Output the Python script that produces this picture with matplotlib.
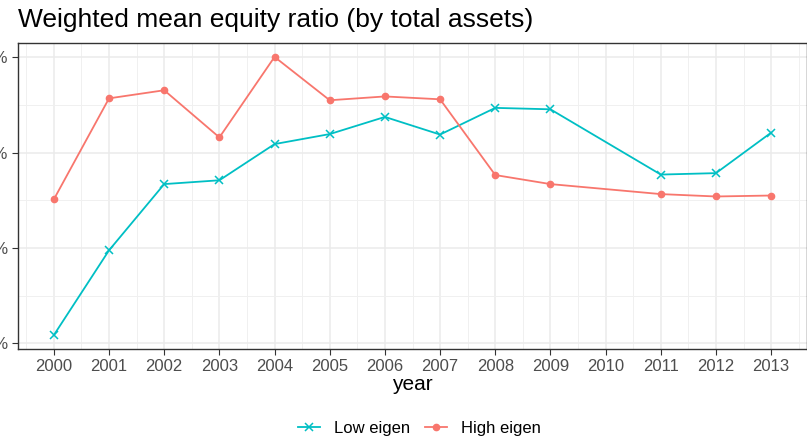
import matplotlib
matplotlib.use("Agg")
import matplotlib.pyplot as plt
from matplotlib.ticker import FuncFormatter, MultipleLocator

# data (2010 is missing for both groups)
years = [2000, 2001, 2002, 2003, 2004, 2005, 2006, 2007, 2008, 2009, 2011, 2012, 2013]
low_eigen = [0.0617, 0.0795, 0.0934, 0.0942, 0.1018, 0.1039, 0.1075, 0.1038,
             0.1094, 0.1091, 0.0954, 0.0957, 0.1042]
high_eigen = [0.0902, 0.1114, 0.1131, 0.1032, 0.1201, 0.1110, 0.1118, 0.1112,
              0.0953, 0.0934, 0.0913, 0.0908, 0.0910]
x_ticks = list(range(2000, 2014))
y_ticks = [0.06, 0.08, 0.10, 0.12]

LOW_COLOR = "#00BFC4"
HIGH_COLOR = "#F8766D"

plt.rcParams["font.family"] = ["Liberation Sans", "DejaVu Sans"]


def pct(v, pos):
    return f"{v * 100:.0f}%"


def plot_equity_ratio():
    fig = plt.figure(figsize=(8.07, 4.41), dpi=100)
    ax = fig.add_axes([18 / 807, (441 - 349) / 441, 789 / 807, 306 / 441])

    ax.plot(years, low_eigen, color=LOW_COLOR, lw=1.3, marker="x",
            markersize=6, markeredgewidth=1.1, label="Low eigen", zorder=3)
    ax.plot(years, high_eigen, color=HIGH_COLOR, lw=1.3, marker="o",
            markersize=4.5, label="High eigen", zorder=3)

    # ggplot-like expansion of 5% on both axes
    xr = years[-1] - years[0]
    ax.set_xlim(years[0] - 0.05 * xr, years[-1] + 0.05 * xr)
    lo = min(low_eigen + high_eigen)
    hi = max(low_eigen + high_eigen)
    ax.set_ylim(lo - 0.05 * (hi - lo), hi + 0.05 * (hi - lo))

    ax.set_xticks(x_ticks)
    ax.set_yticks(y_ticks)
    ax.xaxis.set_minor_locator(MultipleLocator(0.5))
    ax.yaxis.set_minor_locator(MultipleLocator(0.01))
    ax.yaxis.set_major_formatter(FuncFormatter(pct))

    ax.grid(which="major", color="#EBEBEB", lw=1.1, zorder=0)
    ax.grid(which="minor", color="#F0F0F0", lw=0.7, zorder=0)
    ax.set_axisbelow(True)

    for s in ax.spines.values():
        s.set_color("#333333")
        s.set_linewidth(1.0)

    ax.tick_params(which="major", length=4, width=0.8, color="#333333",
                   labelcolor="#4D4D4D", labelsize=12, pad=3)
    ax.tick_params(which="minor", length=0)

    ax.set_xlabel("year", fontsize=15, color="black", labelpad=1)
    fig.text(18 / 807, 1 - 20 / 441, "Weighted mean equity ratio (by total assets)",
             fontsize=19, ha="left", va="center")

    fig.legend(loc="center", bbox_to_anchor=(419 / 807, 1 - 428 / 441), ncol=2,
               frameon=False, fontsize=12, handlelength=1.32, handletextpad=0.84,
               columnspacing=0.9)

    fig.savefig("out.png", dpi=100)


plot_equity_ratio()
